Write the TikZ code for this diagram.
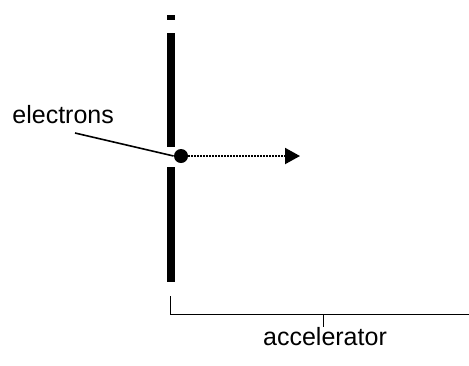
\documentclass[tikz,border=0pt]{standalone}
\usepackage{fontspec}
\setmainfont{Liberation Sans}
\usetikzlibrary{arrows.meta,positioning}
\tikzset{
  plate/.style={fill=black},
  lbl/.style={font=\fontsize{12.5}{15}\selectfont,inner sep=0pt},
  beam/.style={line width=1pt,dash pattern=on 1pt off 0.5pt,
    -{Triangle[length=7.5pt,width=8pt]}}
}
\begin{document}
\begin{tikzpicture}[x=0.5pt,y=-0.5pt]
  \useasboundingbox (0,0) rectangle (469,365);
  % plates
  \fill[plate] (167,15) rectangle (175,20);
  \fill[plate] (167,33) rectangle (175,147);
  \fill[plate] (167,167) rectangle (175,282);
  % electron bunch
  \node[circle,fill=black,minimum size=7pt,inner sep=0pt] (bunch) at (181,156) {};
  \coordinate (tip) at (300,156);
  \draw[beam] (bunch.east) -- (tip);
  % label
  \node[lbl,anchor=base west] (elab) at (12,123) {electrons};
  \coordinate (lstart) at (75,133);
  \draw[line width=0.8pt] (lstart) -- (bunch.west);
  % bracket
  \draw[line width=0.5pt] (170,296) -- (170,314) -- (469,314);
  \coordinate (brk) at (323,314);
  \node[lbl,anchor=base] (alab) at (325,345) {accelerator};
  \draw[line width=0.5pt] (brk) -- ++(0,13);
\end{tikzpicture}
\end{document}
